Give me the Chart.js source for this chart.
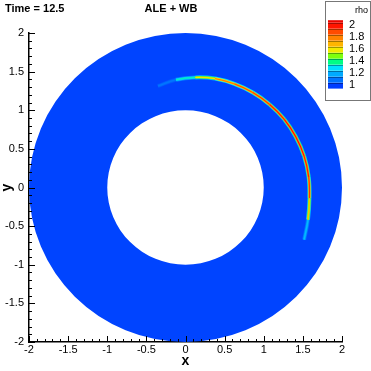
<!DOCTYPE html>
<html><head><meta charset="utf-8">
<script src="https://cdn.jsdelivr.net/npm/chart.js@4"></script>
<style>html,body{margin:0;padding:0;background:#fff}canvas{display:block}</style>
</head><body>
<canvas id="c" width="371" height="371"></canvas>
<script>
// ---- data ----
const xTicks = [-2, -1.5, -1, -0.5, 0, 0.5, 1, 1.5, 2];
const yTicks = [-2, -1.5, -1, -0.5, 0, 0.5, 1, 1.5, 2];
const annulusInner = 1.0;
const annulusOuter = 2.0;
const backgroundRho = 1.0;
// shock front (thin high-density arc)
const frontX = [-0.352, -0.122, 0.125, 0.378, 0.625, 0.860, 1.075, 1.262, 1.409, 1.516, 1.574, 1.584, 1.565, 1.516];
const frontY = [1.314, 1.395, 1.425, 1.410, 1.341, 1.229, 1.075, 0.883, 0.657, 0.406, 0.138, -0.139, -0.419, -0.675];
const frontRho = [1.0, 1.2, 1.5, 1.75, 1.85, 1.9, 1.95, 2.0, 2.0, 2.0, 1.95, 1.9, 1.45, 1.0];
// colour legend
const legendLabels = [2, 1.8, 1.6, 1.4, 1.2, 1];
const legendLevels = [0.94, 1.04, 1.14, 1.24, 1.34, 1.44, 1.54, 1.64, 1.74, 1.84, 1.94, 2.04, 2.08];
const timeLabel = 'Time = 12.5';
const plotTitle = 'ALE + WB';
const legendTitle = 'rho';

// ---- colour map (rainbow) ----
const cmapStops = [
  [0.93, [0, 20, 255]], [1.0, [0, 68, 255]], [1.1, [0, 120, 255]], [1.2, [0, 175, 255]],
  [1.3, [0, 230, 255]], [1.4, [0, 255, 120]], [1.5, [140, 255, 0]], [1.6, [255, 230, 0]],
  [1.7, [255, 175, 0]], [1.8, [255, 125, 0]], [1.9, [255, 70, 0]], [2.0, [255, 15, 0]], [2.1, [220, 0, 0]]
];
function rhoColor(v) {
  if (v <= cmapStops[0][0]) return 'rgb(' + cmapStops[0][1].join(',') + ')';
  for (let i = 1; i < cmapStops.length; i++) {
    if (v <= cmapStops[i][0]) {
      const [a, ca] = cmapStops[i - 1], [b, cb] = cmapStops[i];
      const t = (v - a) / (b - a);
      return 'rgb(' + ca.map((c, k) => Math.round(c + (cb[k] - c) * t)).join(',') + ')';
    }
  }
  return 'rgb(' + cmapStops[cmapStops.length - 1][1].join(',') + ')';
}

const frontPts = frontX.map((x, i) => ({x, y: frontY[i]}));
function layer(width, frac) {
  return {
    data: frontPts, showLine: true, pointRadius: 0, borderWidth: width, tension: 0.4,
    borderCapStyle: 'butt',
    segment: {
      borderColor: ctx => {
        const r = (frontRho[ctx.p0DataIndex] + frontRho[ctx.p1DataIndex]) / 2;
        return rhoColor(backgroundRho + (r - backgroundRho) * frac);
      }
    }
  };
}

const fieldPlugin = {
  id: 'field',
  beforeDatasetsDraw(chart) {
    const {ctx, scales: {x, y}} = chart;
    const cx = x.getPixelForValue(0), cy = y.getPixelForValue(0);
    const rxo = x.getPixelForValue(annulusOuter) - cx, ryo = cy - y.getPixelForValue(annulusOuter);
    const rxi = x.getPixelForValue(annulusInner) - cx, ryi = cy - y.getPixelForValue(annulusInner);
    ctx.save();
    ctx.beginPath();
    ctx.ellipse(cx, cy, rxo, ryo, 0, 0, Math.PI * 2);
    ctx.moveTo(cx + rxi, cy);
    ctx.ellipse(cx, cy, rxi, ryi, 0, 0, Math.PI * 2, true);
    ctx.fillStyle = rhoColor(backgroundRho);
    ctx.fill('evenodd');
    ctx.restore();
  },
  afterDraw(chart) {
    const {ctx, scales: {x, y}, chartArea: a} = chart;
    ctx.save();
    ctx.strokeStyle = '#000';
    ctx.lineWidth = 1;
    // inward ticks (major and minor)
    for (let i = 0; i < xTicks.length; i++) {
      const px = Math.round(x.getPixelForValue(xTicks[i])) + 0.5;
      ctx.beginPath(); ctx.moveTo(px, a.bottom); ctx.lineTo(px, a.bottom - 6); ctx.stroke();
      if (i < xTicks.length - 1) {
        for (let k = 1; k < 5; k++) {
          const v = xTicks[i] + (xTicks[i + 1] - xTicks[i]) * k / 5;
          const p = Math.round(x.getPixelForValue(v)) + 0.5;
          ctx.beginPath(); ctx.moveTo(p, a.bottom); ctx.lineTo(p, a.bottom - 3); ctx.stroke();
        }
      }
    }
    for (let i = 0; i < yTicks.length; i++) {
      const py = Math.round(y.getPixelForValue(yTicks[i])) + 0.5;
      ctx.beginPath(); ctx.moveTo(a.left, py); ctx.lineTo(a.left + 6, py); ctx.stroke();
      if (i < yTicks.length - 1) {
        for (let k = 1; k < 5; k++) {
          const v = yTicks[i] + (yTicks[i + 1] - yTicks[i]) * k / 5;
          const p = Math.round(y.getPixelForValue(v)) + 0.5;
          ctx.beginPath(); ctx.moveTo(a.left, p); ctx.lineTo(a.left + 3, p); ctx.stroke();
        }
      }
    }
    // time label
    ctx.fillStyle = '#000';
    ctx.font = 'bold 11px "Liberation Sans", Arial, sans-serif';
    ctx.textAlign = 'left'; ctx.textBaseline = 'middle';
    ctx.fillText(timeLabel, 5, 9);
    // legend
    const bx = 325.5, by = 1.5, bw = 45, bh = 99;
    ctx.fillStyle = '#fff'; ctx.fillRect(bx, by, bw, bh);
    ctx.strokeStyle = '#777'; ctx.strokeRect(bx, by, bw, bh);
    ctx.fillStyle = '#000';
    ctx.font = '9px "Liberation Sans", Arial, sans-serif';
    ctx.textAlign = 'right';
    ctx.fillText(legendTitle, 368, 11);
    const vy = v => 85 - (v - 1) * 60;
    for (let i = 0; i < legendLevels.length - 1; i++) {
      const y0 = vy(legendLevels[i + 1]), y1 = vy(legendLevels[i]);
      ctx.fillStyle = rhoColor((legendLevels[i] + legendLevels[i + 1]) / 2);
      ctx.fillRect(328, y0, 15, y1 - y0);
    }
    ctx.strokeStyle = 'rgba(0,0,0,0.35)';
    for (let i = 1; i < legendLevels.length - 1; i++) {
      const yy = Math.round(vy(legendLevels[i])) + 0.5;
      ctx.beginPath(); ctx.moveTo(328, yy); ctx.lineTo(343, yy); ctx.stroke();
    }
    ctx.fillStyle = '#000';
    ctx.font = '11px "Liberation Sans", Arial, sans-serif';
    ctx.textAlign = 'left';
    legendLabels.forEach(v => ctx.fillText(String(v), 349, vy(v)));
    ctx.restore();
  }
};

new Chart(document.getElementById('c'), {
  type: 'scatter',
  // lower dataset index is drawn on top: core first, wide halo last
  data: { datasets: [layer(1.2, 1.0), layer(2.5, 0.75), layer(4, 0.35)] },
  options: {
    responsive: false, animation: false, devicePixelRatio: 1,
    layout: { padding: { left: 0, right: 29, top: 0, bottom: 0 } },
    plugins: {
      legend: { display: false }, tooltip: { enabled: false },
      title: { display: true, text: plotTitle, color: '#000',
        font: { family: '"Liberation Sans", Arial, sans-serif', size: 11, weight: 'bold', lineHeight: 1.2 },
        padding: { top: 2, bottom: 17.8 } }
    },
    scales: {
      x: {
        type: 'linear', min: -2, max: 2,
        afterBuildTicks: s => { s.ticks = xTicks.map(v => ({value: v})); },
        afterFit: s => { s.height = 29; },
        grid: { display: false, drawTicks: false },
        border: { display: true, color: '#000', width: 1.5 },
        ticks: { color: '#000', padding: 1, maxRotation: 0, autoSkip: false,
          font: { family: '"Liberation Sans", Arial, sans-serif', size: 11 },
          callback: v => String(v) },
        title: { display: true, text: 'x', color: '#000',
          font: { family: '"Liberation Sans", Arial, sans-serif', size: 14, weight: 'bold', lineHeight: 1 },
          padding: { top: 0, bottom: 3 } }
      },
      y: {
        type: 'linear', min: -2, max: 2,
        afterBuildTicks: s => { s.ticks = yTicks.map(v => ({value: v})); },
        afterFit: s => { s.width = 29; },
        grid: { display: false, drawTicks: false },
        border: { display: true, color: '#000', width: 1.5 },
        ticks: { color: '#000', padding: 5, autoSkip: false,
          font: { family: '"Liberation Sans", Arial, sans-serif', size: 11 },
          callback: v => String(v) },
        title: { display: true, text: 'y', color: '#000',
          font: { family: '"Liberation Sans", Arial, sans-serif', size: 14, weight: 'bold', lineHeight: 1 },
          padding: { top: 0, bottom: 0 } }
      }
    }
  },
  plugins: [fieldPlugin]
});
</script>
</body></html>
